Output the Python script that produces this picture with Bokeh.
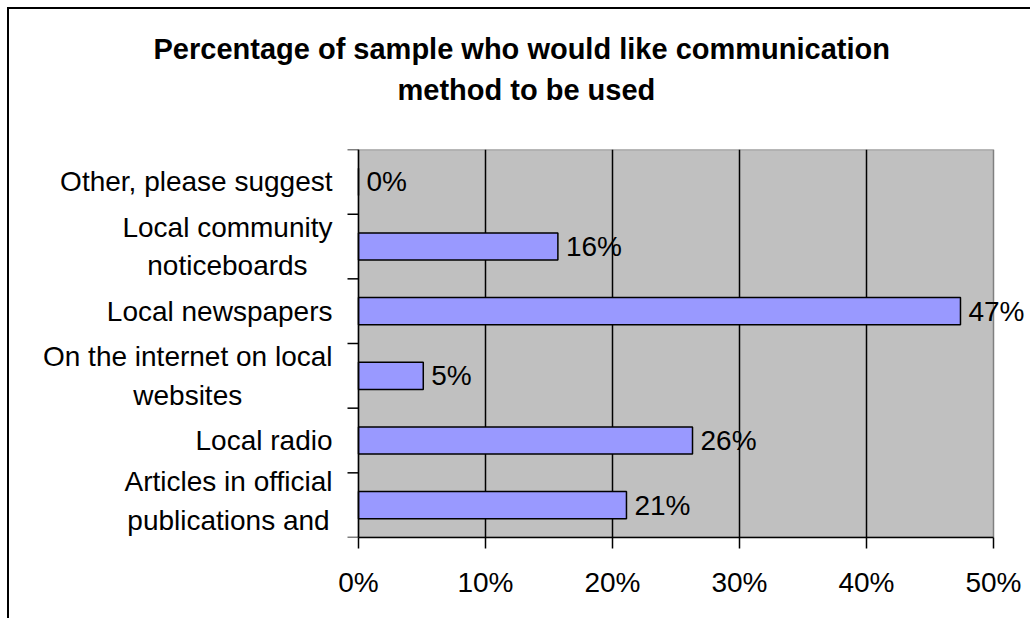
from bokeh.plotting import figure
from bokeh.models import (Label, LabelSet, ColumnDataSource, FixedTicker, Range1d,
                          InlineStyleSheet, Title, Span)
from bokeh.core.properties import value
from bokeh.embed import file_html
from bokeh.resources import INLINE

# ---- data ----
categories = [
    "Articles in official\npublications and",
    "Local radio",
    "On the internet on local\nwebsites",
    "Local newspapers",
    "Local community\nnoticeboards",
    "Other, please suggest",
]
values = [21.1, 26.3, 5.1, 47.4, 15.7, 0.0]
value_labels = [f"{round(v)}%" for v in values]
x_ticks = [0, 10, 20, 30, 40, 50]
x_tick_labels = ["0%", "10%", "20%", "30%", "40%", "50%"]
title_lines = ["Percentage of sample who would like communication", "method to be used"]

FONT = "Liberation Sans"
FS = "28px"
W, H = 1030, 618
AREA_L, AREA_R = 358, 993          # pixel edges of the grey plot area
TICK_PX = 11

n = len(categories)
ypos = [i + 0.5 for i in range(n)]
bounds_y = list(range(n + 1))
# the frame spans the whole width so that annotations outside the grey
# plot area are not clipped; the grey plot area itself covers 0-50%
k = (AREA_R - AREA_L) / (x_ticks[-1] - x_ticks[0])      # px per unit
x_start = x_ticks[0] - AREA_L / k
x_end = x_ticks[-1] + (W - AREA_R) / k

p = figure(width=W, height=H, output_backend="svg", toolbar_location=None,
           x_range=Range1d(x_start, x_end), y_range=Range1d(0, n),
           min_border_left=0, min_border_right=0, min_border_top=149,
           min_border_bottom=81)
p.title.visible = False
p.background_fill_color = "white"
p.border_fill_color = "white"
p.outline_line_color = None
p.yaxis.visible = False

# grey plot area (0-50%)
p.quad(left=x_ticks[0], right=x_ticks[-1], bottom=0, top=n, fill_color="#C0C0C0",
       line_color="#808080", line_width=1.5, level="image")

src = ColumnDataSource(dict(y=ypos, v=values, lab=value_labels))
p.hbar(y="y", right="v", left=0, height=0.42, source=src,
       fill_color="#9999FF", line_color="black", line_width=1.5)

# category axis line and boundary ticks
p.add_layout(Span(location=x_ticks[0], dimension="height", line_color="black",
                  line_width=1.5))
p.segment(x0=[x_ticks[0] - TICK_PX / k] * len(bounds_y), x1=[x_ticks[0]] * len(bounds_y),
          y0=bounds_y, y1=bounds_y, line_color="black", line_width=1.5)

# x axis
p.xaxis.ticker = FixedTicker(ticks=x_ticks)
p.xaxis.bounds = (x_ticks[0], x_ticks[-1])
p.xaxis.major_label_overrides = {t: l for t, l in zip(x_ticks, x_tick_labels)}
p.xaxis.axis_line_color = "black"
p.xaxis.axis_line_width = 1.5
p.xaxis.major_tick_line_color = "black"
p.xaxis.major_tick_line_width = 1.5
p.xaxis.major_tick_out = TICK_PX
p.xaxis.major_tick_in = 0
p.xaxis.minor_tick_line_color = None
p.xaxis.major_label_text_font = FONT
p.xaxis.major_label_text_font_size = FS
p.xaxis.major_label_text_color = "black"
p.xaxis.major_label_standoff = 18

p.ygrid.grid_line_color = None
p.xgrid.ticker = FixedTicker(ticks=x_ticks[1:-1])
p.xgrid.grid_line_color = "black"
p.xgrid.grid_line_width = 1.5

# category labels: block right-aligned, lines centred
# (the lowest one is nudged up so its descenders stay inside the frame)
for i, (y, c) in enumerate(zip(ypos, categories)):
    p.add_layout(Label(x=x_ticks[0], y=y, text=c, x_offset=-26,
                       y_offset=4 if i == 0 else 0, anchor="center_right",
                       text_align="center", text_baseline="middle",
                       text_font=FONT, text_font_size=FS, text_color="black",
                       text_line_height=1.24))

# value labels
p.add_layout(LabelSet(x="v", y="y", text="lab", source=src, x_offset=8,
                      text_align="left", text_baseline="middle",
                      text_font=value(FONT), text_font_size=value(FS), text_color="black"))

# title: spacer, then the two lines (nearest the frame first)
p.add_layout(Title(text=" ", text_font_size="1px", standoff=36), "above")
offsets = [-205, 39]
standoffs = [4, 10]
for line, off, so in reversed(list(zip(title_lines, offsets, standoffs))):
    p.add_layout(Title(text=line, align="left", offset=AREA_L + off, standoff=so,
                       text_font=FONT, text_font_size="29px",
                       text_font_style="bold", text_color="black"), "above")

# outer chart frame (top and left edges visible)
p.stylesheets = [InlineStyleSheet(css=(
    ":host::after{content:'';position:absolute;left:7px;top:7px;"
    "width:1023px;height:611px;border-top:2px solid #000;border-left:2px solid #000;"
    "box-sizing:border-box;pointer-events:none;}"))]

open("out.html", "w").write(file_html(p, INLINE))
